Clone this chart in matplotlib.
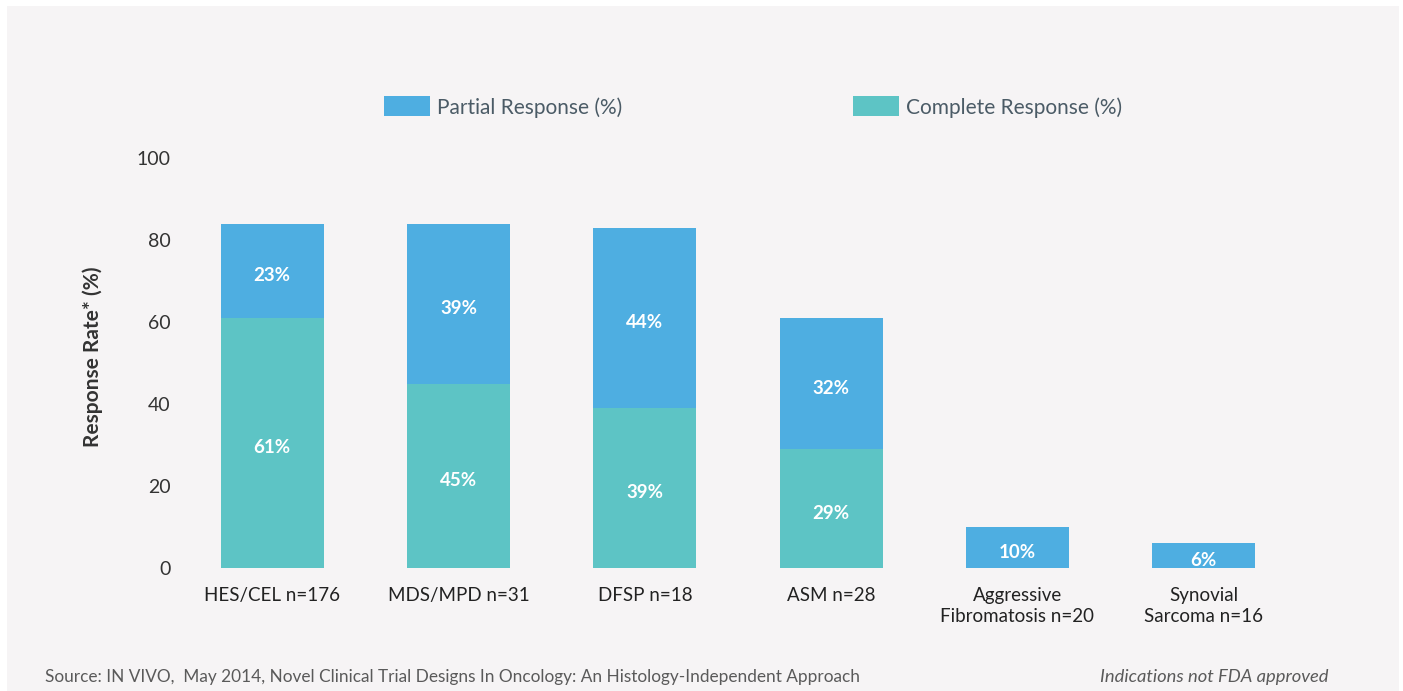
import matplotlib.pyplot as plt
from matplotlib.patches import Rectangle
import numpy as np

plt.rcParams['font.family'] = ['Lato', 'DejaVu Sans']

# data
categories = ['HES/CEL n=176', 'MDS/MPD n=31', 'DFSP n=18', 'ASM n=28',
              'Aggressive\nFibromatosis n=20', 'Synovial\nSarcoma n=16']
complete = [61, 45, 39, 29, 0, 0]
partial = [23, 39, 44, 32, 10, 6]
yticks = [0, 20, 40, 60, 80, 100]

blue = '#4eaee1'
teal = '#5dc4c5'
bg = '#f6f4f5'

fig = plt.figure(figsize=(14.03, 6.91), dpi=100, facecolor='white')

# light panel behind everything
fig.patches.append(Rectangle((7 / 1403, 0), 1392 / 1403, 685 / 691,
                             transform=fig.transFigure, facecolor=bg,
                             edgecolor='none', zorder=-5))

ax = fig.add_axes([179 / 1403, 123 / 691, 1118 / 1403, 410 / 691])
ax.set_facecolor('none')
ax.set_zorder(2)

x = np.arange(len(categories))
width = 0.553
b1 = ax.bar(x, complete, width, color=teal, label='Complete Response (%)')
b2 = ax.bar(x, partial, width, bottom=complete, color=blue,
            label='Partial Response (%)')

# value labels inside the segments (nudged down a little, like the original)
lab = dict(ha='center', va='center', color='white', fontsize=13.5,
           fontweight='bold', textcoords='offset points', xytext=(0, -3.5))
for i in range(len(categories)):
    if complete[i] > 0:
        ax.annotate(f'{complete[i]}%', (x[i], complete[i] / 2), **lab)
    ax.annotate(f'{partial[i]}%', (x[i], complete[i] + partial[i] / 2), **lab)

ax.set_xlim(-0.5, len(categories) - 0.5)
ax.set_ylim(0, 100)
ax.set_yticks(yticks)
ax.set_xticks(x)
ax.set_xticklabels(categories, fontsize=13.5, color='#222222', linespacing=1.25)
ax.tick_params(axis='y', length=0, pad=6, labelsize=14, labelcolor='#333333')
ax.tick_params(axis='x', length=0, pad=14)
for s in ax.spines.values():
    s.set_visible(False)

ax.set_ylabel('Response Rate* (%)', fontsize=15, fontweight='bold',
              color='#333333')
ax.yaxis.set_label_coords(-0.068, 0.515)

ax.legend(handles=[b2, b1], ncol=2, frameon=False, fontsize=15,
          labelcolor='#4b5b66', handlelength=2.2, handleheight=1.1,
          handletextpad=0.34, columnspacing=11.1,
          loc='center', bbox_to_anchor=(753 / 1403, 584 / 691),
          bbox_transform=fig.transFigure)

fig.text(45 / 1403, 14 / 691,
         'Source: IN VIVO,  May 2014, Novel Clinical Trial Designs In '
         'Oncology: An Histology-Independent Approach',
         fontsize=12.4, color='#5a5a5a', va='center', ha='left')
fig.text(1328 / 1403, 14 / 691, 'Indications not FDA approved',
         fontsize=13.2, color='#5a5a5a', style='italic', va='center', ha='right')

fig.savefig('out.png', dpi=100, facecolor='white')
